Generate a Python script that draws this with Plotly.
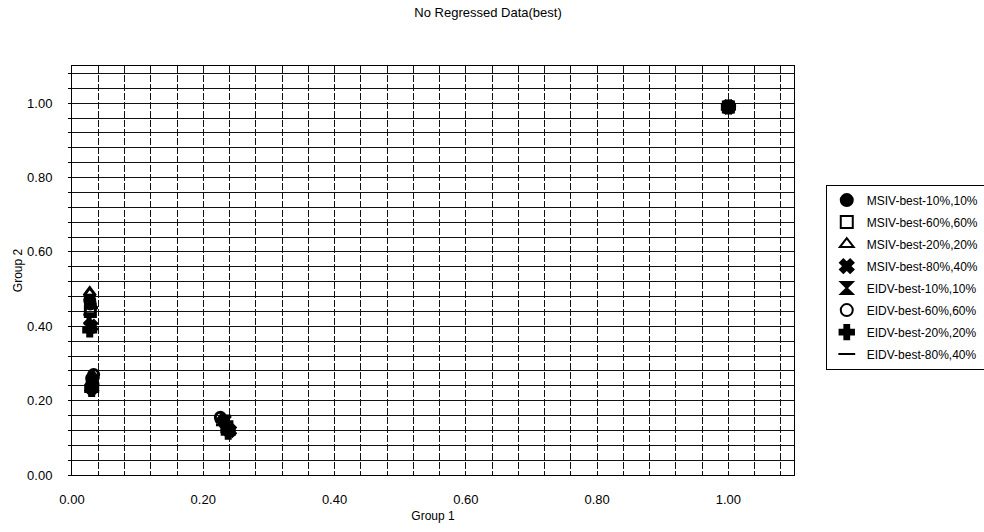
import plotly.graph_objects as go

series_names = ["MSIV-best-10%,10%", "MSIV-best-60%,60%", "MSIV-best-20%,20%", "MSIV-best-80%,40%",
                "EIDV-best-10%,10%", "EIDV-best-60%,60%", "EIDV-best-20%,20%", "EIDV-best-80%,40%"]
symbols = ["circle", "square-open", "triangle-up-open", "x", "hourglass", "circle-open", "cross", "line-ew"]

x_vals = [
    [0.027, 0.030, 0.232, 1.000],
    [0.028, 0.031, 0.236, 1.000],
    [0.027, 0.032, 0.228, 1.000],
    [0.029, 0.030, 0.240, 1.000],
    [0.026, 0.031, 0.234, 1.000],
    [0.028, 0.033, 0.226, 1.002],
    [0.027, 0.030, 0.238, 1.000],
    [0.029, 0.031, 0.230, 1.000],
]
y_vals = [
    [0.470, 0.260, 0.140, 0.990],
    [0.440, 0.240, 0.130, 0.990],
    [0.490, 0.265, 0.150, 0.990],
    [0.400, 0.235, 0.120, 0.990],
    [0.420, 0.250, 0.145, 0.990],
    [0.460, 0.270, 0.155, 0.992],
    [0.390, 0.230, 0.115, 0.990],
    [0.450, 0.245, 0.135, 0.990],
]

grid_vals = [round(i * 0.04, 2) for i in range(28)]
label_vals = [0.0, 0.2, 0.4, 0.6, 0.8, 1.0]
tick_text = [("%.2f" % v) if any(abs(v - l) < 1e-9 for l in label_vals) else "" for v in grid_vals]

FONT = "Liberation Sans, Arial"

fig = go.Figure()
for i, (name, sym, xs, ys) in enumerate(zip(series_names, symbols, x_vals, y_vals)):
    fig.add_trace(go.Scatter(
        x=xs, y=ys, mode="markers", name=name, legendgroup="g%d" % i,
        marker=dict(symbol=sym, size=10, color="black",
                    line=dict(color="black", width=3)),
    ))

fig.update_layout(
    width=984, height=532,
    paper_bgcolor="white", plot_bgcolor="white",
    margin=dict(l=72, r=190, t=66, b=57, autoexpand=False),
    font=dict(family=FONT, color="black", size=12),
    title=dict(text="No Regressed Data(best)", x=0.496, xanchor="center",
               y=0.985, yanchor="top", font=dict(size=13, family=FONT)),
    showlegend=True,
    legend=dict(x=1.044, y=0.71, xanchor="left", yanchor="top",
                bordercolor="black", borderwidth=1, bgcolor="white",
                font=dict(size=12, family=FONT), tracegroupgap=3,
                itemsizing="constant", itemwidth=30),
)

fig.update_xaxes(
    range=[0, 1.1], tickmode="array", tickvals=grid_vals, ticktext=tick_text,
    showgrid=True, gridcolor="#111", gridwidth=1, griddash="7px,2px",
    showline=True, linecolor="black", linewidth=1, mirror=True,
    zeroline=False, ticks="", tickfont=dict(size=13), ticklabelstandoff=12,
    automargin=False,
    title=dict(text="Group 1", font=dict(size=12), standoff=6),
)
fig.update_yaxes(
    range=[0, 1.1], tickmode="array", tickvals=grid_vals, ticktext=tick_text,
    showgrid=True, gridcolor="#111", gridwidth=1,
    showline=True, linecolor="black", linewidth=1, mirror=True,
    zeroline=False, ticks="outside", ticklen=3, tickcolor="black",
    tickfont=dict(size=13), ticklabelstandoff=13, automargin=False,
    title=dict(text="Group 2", font=dict(size=12), standoff=1),
)

fig.write_html("out.html", config={"displayModeBar": False},
               post_script="document.body.style.margin='0';")
